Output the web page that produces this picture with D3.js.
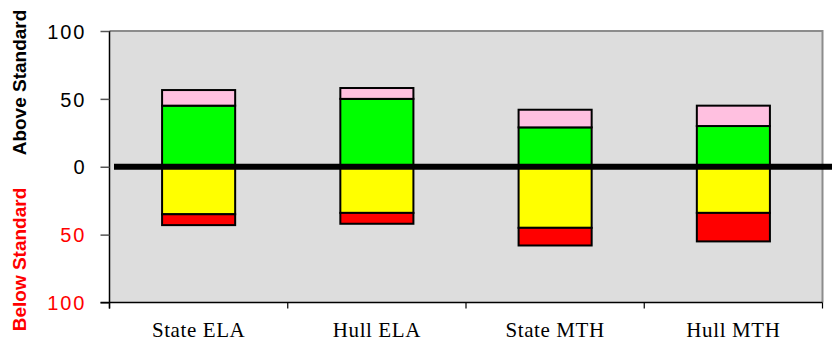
<!DOCTYPE html>
<html>
<head>
<meta charset="utf-8">
<script src="https://cdn.jsdelivr.net/npm/d3@7"></script>
<style>
  html, body { margin: 0; padding: 0; background: #ffffff; }
  svg { display: block; }
</style>
</head>
<body>
<svg id="chart" width="832" height="344"></svg>
<script>
// Performance levels per test group (percent of students)
const categories = ["State ELA", "Hull ELA", "State MTH", "Hull MTH"];
const advanced = [11.5, 8, 13, 15];          // above standard, top segment
const proficient = [45, 50, 29, 30];         // above standard, next to zero
const needsImprovement = [35, 34, 45, 34];   // below standard, next to zero
const warning = [8, 8, 13, 21];              // below standard, bottom segment
const yTicks = [100, 50, 0, -50, -100];

const svg = d3.select("#chart");
const plotLeft = 109.5, plotRight = 822.5, plotTop = 31, plotBottom = 302.5;

const x = d3.scaleBand().domain(categories).range([plotLeft, plotRight]).paddingInner(0).paddingOuter(0);
const y = d3.scaleLinear().domain([-100, 100]).range([plotBottom, plotTop]);
const barW = x.bandwidth() * 0.41;

// plot area
svg.append("rect")
  .attr("x", plotLeft).attr("y", plotTop)
  .attr("width", plotRight - plotLeft).attr("height", plotBottom - plotTop)
  .attr("fill", "#dddddd");
// top and right frame
svg.append("path")
  .attr("d", `M${plotLeft},${plotTop}H${plotRight}V${plotBottom}`)
  .attr("fill", "none").attr("stroke", "#8c8c8c").attr("stroke-width", 2);

// stacked segments
const segments = [];
categories.forEach((c, i) => {
  segments.push({c, y0: 0, y1: proficient[i], fill: "#00ff00"});
  segments.push({c, y0: proficient[i], y1: proficient[i] + advanced[i], fill: "#ffc0e0"});
  segments.push({c, y0: 0, y1: -needsImprovement[i], fill: "#ffff00"});
  segments.push({c, y0: -needsImprovement[i], y1: -needsImprovement[i] - warning[i], fill: "#ff0000"});
});
svg.append("g").selectAll("rect").data(segments).join("rect")
  .attr("x", d => x(d.c) + (x.bandwidth() - barW) / 2)
  .attr("width", barW)
  .attr("y", d => y(Math.max(d.y0, d.y1)))
  .attr("height", d => Math.abs(y(d.y0) - y(d.y1)))
  .attr("fill", d => d.fill)
  .attr("stroke", "#000").attr("stroke-width", 2);

// standard line at zero
svg.append("line")
  .attr("x1", 114).attr("x2", 832)
  .attr("y1", y(0)).attr("y2", y(0))
  .attr("stroke", "#000").attr("stroke-width", 6);

// y axis
const yAxis = d3.axisLeft(y).tickValues(yTicks).tickSize(9).tickPadding(0).tickFormat(d => "");
const gy = svg.append("g").attr("transform", `translate(${plotLeft},0)`).call(yAxis);
gy.select(".domain").attr("stroke", "#000").attr("stroke-width", 1.5).attr("d", `M0,${plotTop}V${plotBottom + 6}`);
gy.selectAll(".tick line").attr("stroke", "#555").attr("stroke-width", 1.5);
gy.selectAll(".tick").append("text")
  .attr("x", -23).attr("dy", "0.36em")
  .attr("text-anchor", "end")
  .attr("fill", d => d < 0 ? "#ff0000" : "#000")
  .attr("font-family", "Liberation Sans, Arial, sans-serif")
  .attr("font-size", 20)
  .attr("letter-spacing", 2)
  .text(d => Math.abs(d));

// x axis with ticks between categories
const gx = svg.append("g");
gx.append("line").attr("x1", plotLeft - 9).attr("x2", plotRight).attr("y1", plotBottom).attr("y2", plotBottom)
  .attr("stroke", "#000").attr("stroke-width", 1.5);
const bounds = categories.map(c => x(c)).concat([plotRight]);
gx.selectAll("line.t").data(bounds).join("line").attr("class", "t")
  .attr("x1", d => d).attr("x2", d => d).attr("y1", plotBottom).attr("y2", plotBottom + 6)
  .attr("stroke", "#000").attr("stroke-width", 1.2);
gx.selectAll("text").data(categories).join("text")
  .attr("x", d => x(d) + x.bandwidth() / 2)
  .attr("y", 337)
  .attr("text-anchor", "middle")
  .attr("font-family", "Liberation Serif, Times New Roman, serif")
  .attr("font-size", 21)
  .attr("letter-spacing", 0.6)
  .attr("fill", "#000")
  .text(d => d);

// axis titles
svg.append("text")
  .attr("transform", `translate(25.5,82.5) rotate(-90)`)
  .attr("text-anchor", "middle")
  .attr("font-family", "Liberation Sans, Arial, sans-serif")
  .attr("font-weight", "bold").attr("font-size", 19)
  .attr("fill", "#000")
  .text("Above Standard");
svg.append("text")
  .attr("transform", `translate(25.5,259.5) rotate(-90)`)
  .attr("text-anchor", "middle")
  .attr("font-family", "Liberation Sans, Arial, sans-serif")
  .attr("font-weight", "bold").attr("font-size", 19)
  .attr("fill", "#ff0000")
  .text("Below Standard");
</script>
</body>
</html>
